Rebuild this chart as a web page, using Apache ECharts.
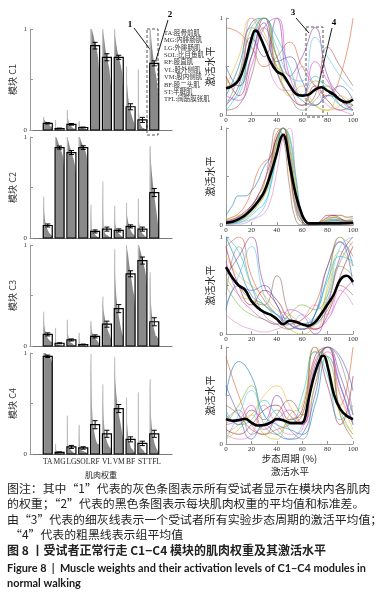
<!DOCTYPE html>
<html><head><meta charset="utf-8">
<script src="https://cdn.jsdelivr.net/npm/echarts@6/dist/echarts.min.js"></script>
<style>html,body{margin:0;padding:0;background:#fff}#c{width:377px;height:594px}</style>
</head><body><div id="c"></div>
<script>
// ---------- DATA ----------
const muscles = ['TA','MG','LG','SOL','RF','VL','VM','BF','ST','TFL'];
const legendLines = ['TA:胫骨前肌','MG:内腓肠肌','LG:外腓肠肌','SOL:比目鱼肌','RF:股直肌','VL:股外侧肌','VM:股内侧肌','BF:股二头肌','ST:半腱肌','TFL:阔筋膜张肌'];

const meanC1 = [0.066,0.015,0.056,0.025,0.835,0.72,0.72,0.23,0.10,0.66];
const meanC2 = [0.124,0.895,0.846,0.895,0.065,0.088,0.075,0.115,0.088,0.45];
const meanC3 = [0.115,0.027,0.06,0.015,0.095,0.216,0.37,0.715,0.846,0.24];
const meanC4 = [0.967,0.017,0.07,0.06,0.29,0.20,0.45,0.145,0.105,0.20];

const errC1 = [0.006,0.004,0.008,0.004,0.033,0.035,0.02,0.03,0.025,0.025];
const errC2 = [0.015,0.015,0.02,0.018,0.015,0.02,0.015,0.015,0.02,0.04];
const errC3 = [0.015,0.005,0.01,0.004,0.015,0.03,0.04,0.03,0.035,0.04];
const errC4 = [0.012,0.004,0.015,0.012,0.04,0.035,0.04,0.025,0.022,0.035];

// sorted per-subject weights (grey bars)
const grayC1 = [
  [0.13,0.1,0.09,0.08,0.07,0.06,0.05,0.04,0.03,0.02],
  [0.1,0.03,0.01,0.005,0,0,0,0,0,0],
  [0.2,0.12,0.07,0.05,0.04,0.03,0.02,0.015,0.01,0],
  [0.09,0.05,0.03,0.02,0.02,0.015,0.01,0.01,0.005,0],
  [1.0,1.0,0.97,0.93,0.88,0.84,0.8,0.75,0.67,0.5],
  [1.0,0.95,0.88,0.8,0.74,0.7,0.65,0.6,0.5,0.38],
  [1.0,0.92,0.85,0.79,0.74,0.7,0.66,0.62,0.56,0.36],
  [0.63,0.45,0.33,0.25,0.2,0.16,0.13,0.1,0.07,0],
  [0.6,0.18,0.08,0.05,0.03,0.02,0.02,0.01,0.01,0],
  [1.0,0.95,0.85,0.76,0.68,0.62,0.56,0.5,0.4,0.28]
];
const grayC2 = [
  [0.41,0.25,0.16,0.12,0.09,0.07,0.05,0.04,0.03,0.02],
  [1.0,1.0,0.98,0.95,0.92,0.9,0.87,0.84,0.8,0.69],
  [1.0,0.98,0.94,0.9,0.87,0.84,0.8,0.77,0.72,0.64],
  [1.0,1.0,0.97,0.94,0.92,0.9,0.88,0.85,0.81,0.68],
  [0.33,0.1,0.06,0.05,0.04,0.03,0.02,0.01,0.01,0],
  [0.56,0.12,0.06,0.04,0.03,0.03,0.02,0.01,0.01,0],
  [0.32,0.14,0.08,0.06,0.05,0.04,0.03,0.02,0.01,0],
  [0.35,0.22,0.16,0.12,0.09,0.07,0.05,0.04,0.03,0.02],
  [0.39,0.16,0.1,0.07,0.05,0.04,0.03,0.02,0.01,0.01],
  [0.91,0.78,0.65,0.55,0.46,0.39,0.31,0.24,0.16,0.05]
];
const grayC3 = [
  [0.34,0.2,0.15,0.11,0.09,0.07,0.06,0.05,0.04,0.04],
  [0.18,0.04,0.02,0.01,0.01,0.01,0,0,0,0],
  [0.26,0.12,0.07,0.05,0.03,0.03,0.02,0.01,0.01,0],
  [0.13,0.02,0,0,0,0,0,0,0,0],
  [0.25,0.16,0.12,0.1,0.09,0.07,0.06,0.05,0.03,0.02],
  [0.49,0.36,0.3,0.24,0.2,0.17,0.14,0.12,0.09,0.05],
  [0.96,0.66,0.5,0.4,0.33,0.27,0.21,0.16,0.12,0.09],
  [1.0,0.96,0.9,0.82,0.74,0.68,0.62,0.55,0.5,0.38],
  [1.0,1.0,0.96,0.92,0.88,0.84,0.8,0.76,0.7,0.6],
  [0.73,0.45,0.32,0.24,0.18,0.14,0.1,0.1,0.08,0.06]
];
const grayC4 = [
  [1.0,1.0,1.0,0.99,0.98,0.97,0.96,0.95,0.93,0.89],
  [0.1,0.04,0.02,0.01,0,0,0,0,0,0],
  [0.38,0.1,0.06,0.05,0.04,0.03,0.02,0.01,0.01,0],
  [0.29,0.1,0.06,0.04,0.03,0.03,0.02,0.02,0.01,0],
  [0.99,0.55,0.35,0.26,0.2,0.15,0.12,0.1,0.1,0.08],
  [0.69,0.38,0.25,0.18,0.14,0.11,0.09,0.07,0.06,0.03],
  [0.96,0.72,0.6,0.5,0.43,0.37,0.32,0.26,0.2,0.14],
  [0.56,0.3,0.18,0.13,0.09,0.06,0.05,0.04,0.02,0.02],
  [0.61,0.15,0.09,0.06,0.05,0.04,0.03,0.01,0.01,0],
  [0.74,0.4,0.27,0.19,0.14,0.1,0.07,0.05,0.03,0.01]
];

// activation: gait cycle samples
const cycle10 = [0,10,20,30,40,50,60,70,80,90,100];
const cycle5 = [0,5,10,15,20,25,30,35,40,45,50,55,60,65,70,75,80,85,90,95,100];

const subjC1 = [
  [0.2,0.5,0.95,1.0,0.6,0.3,0.15,0.1,0.2,0.15,0.05],
  [0.9,0.85,0.7,0.5,0.6,0.75,0.5,0.3,0.2,0.4,1.0],
  [0.3,0.6,1.0,0.85,0.5,0.4,0.2,0.1,0.05,0.1,0.2],
  [0.1,0.3,0.8,0.6,1.0,0.4,0.6,0.9,0.4,0.2,0.1],
  [0.25,0.4,0.9,1.0,0.5,0.3,0.2,0.35,0.3,0.15,0.1],
  [0.15,0.2,0.8,1.0,0.7,0.4,0.35,0.8,0.6,0.4,0.25],
  [0.4,0.2,0.6,1.0,0.45,0.2,0.1,0.3,0.15,0.05,0.1],
  [0.05,0.1,0.4,0.9,0.6,0.3,0.1,0.2,0.7,0.5,0.3],
  [0.3,0.35,1.0,0.7,0.3,0.25,0.5,0.3,0.1,0.05,0.0],
  [0.1,0.4,0.9,0.8,0.45,0.2,0.05,0.15,0.3,0.1,0.05],
  [0.35,0.3,0.8,1.0,0.6,0.2,0.3,0.1,0.05,0.2,0.1],
  [0.05,0.25,0.7,1.0,0.8,0.5,0.2,0.4,0.25,0.1,0.05],
  [0.5,0.3,0.6,0.95,0.55,0.6,0.35,0.1,0.2,0.3,0.15],
  [0.2,0.15,0.5,0.9,1.0,0.4,0.2,0.55,0.35,0.15,0.05]
];
const subjC2 = [
  [0.1,0.2,0.3,0.3,0.35,0.45,0.6,0.7,0.9,1.0,0.6,0.15,0.02,0,0,0.02,0.05,0.06,0.05,0.04,0.05],
  [0.05,0.08,0.12,0.2,0.35,0.55,0.65,0.7,0.95,1.0,0.8,0.3,0.05,0,0,0.03,0.07,0.08,0.06,0.04,0.03],
  [0.02,0.03,0.05,0.08,0.15,0.22,0.3,0.55,0.85,1.0,0.55,0.15,0.02,0,0,0,0.02,0.03,0.02,0.01,0.02],
  [0.03,0.05,0.08,0.12,0.2,0.28,0.35,0.6,0.9,1.0,0.7,0.3,0.08,0.02,0.02,0.04,0.08,0.1,0.1,0.08,0.09],
  [0.01,0.02,0.04,0.07,0.12,0.2,0.3,0.45,0.8,1.0,0.9,0.45,0.1,0.01,0,0.02,0.05,0.08,0.06,0.05,0.07],
  [0,0.01,0.02,0.04,0.06,0.1,0.18,0.4,0.7,1.0,0.85,0.35,0.05,0,0,0.01,0.02,0.03,0.02,0.02,0.03],
  [0.04,0.06,0.09,0.14,0.2,0.3,0.45,0.65,0.9,1.0,0.6,0.2,0.04,0,0,0.05,0.1,0.1,0.07,0.04,0.04],
  [0.02,0.03,0.06,0.1,0.18,0.3,0.42,0.75,1.0,0.9,0.4,0.05,0,0,0,0.01,0.03,0.05,0.04,0.03,0.03],
  [0,0.01,0.01,0.02,0.05,0.08,0.12,0.25,0.55,0.9,1.0,0.5,0.1,0.01,0,0,0.01,0.02,0.02,0.01,0.02],
  [0.02,0.02,0.04,0.08,0.14,0.22,0.32,0.5,0.85,1.0,0.75,0.25,0.04,0,0,0.02,0.04,0.05,0.04,0.03,0.04],
  [0.06,0.08,0.1,0.12,0.18,0.25,0.38,0.55,0.88,1.0,0.8,0.4,0.08,0.02,0.01,0.03,0.06,0.08,0.1,0.08,0.07],
  [0.01,0.02,0.03,0.05,0.1,0.16,0.22,0.4,0.75,1.0,0.92,0.5,0.1,0.01,0,0.01,0.03,0.04,0.03,0.02,0.02]
];
const subjC3 = [
  [1.0,0.7,0.4,0.3,0.2,0.1,0.05,0.2,0.6,1.0,0.7],
  [0.9,1.0,0.6,0.35,0.2,0.1,0.15,0.3,0.7,0.95,0.8],
  [0.8,0.6,0.5,0.4,0.25,0.2,0.1,0.05,0.5,1.0,0.9],
  [0.6,0.8,1.0,0.5,0.3,0.05,0.1,0.0,0.3,0.8,1.0],
  [0.5,0.3,0.2,0.15,0.1,0.2,0.3,0.25,0.4,0.7,0.6],
  [0.3,0.6,0.9,0.4,0.2,0.1,0.2,0.1,0.4,0.9,1.0],
  [0.9,0.5,0.3,0.45,0.35,0.15,0.1,0.05,0.2,0.6,0.9],
  [0.7,0.5,0.35,0.3,0.6,0.2,0.05,0.1,0.25,0.5,0.4],
  [0.2,0.1,0.05,0.02,0.05,0.1,0.15,0.3,0.2,0.45,0.3],
  [0.4,0.9,0.5,0.2,0.1,0.05,0.1,0.15,0.35,0.75,0.95],
  [0.6,0.4,0.35,0.3,0.15,0.05,0.0,0.1,0.45,0.85,0.7],
  [1.0,0.85,0.5,0.3,0.2,0.15,0.1,0.2,0.55,0.8,0.75],
  [0.25,0.5,0.45,0.5,0.3,0.1,0.05,0.2,0.7,0.95,0.5],
  [0.75,0.4,0.25,0.15,0.1,0.25,0.2,0.05,0.15,0.4,0.55]
];
const subjC4 = [
  [0.5,0.85,0.7,0.3,0.2,0.15,0.1,0.4,0.9,0.6,0.2],
  [0.9,0.5,0.2,0.1,0.15,0.2,0.3,0.9,1.0,0.4,1.0],
  [0.1,0.2,0.3,0.5,0.6,0.4,0.2,0.6,1.0,0.5,0.15],
  [0.3,0.2,0.35,0.25,0.5,0.3,0.2,0.8,1.0,0.7,0.3],
  [0.2,0.4,0.6,0.2,0.1,0.25,0.3,0.95,0.9,0.35,0.1],
  [0.05,0.3,0.55,0.3,0.15,0.05,0.2,0.7,1.0,0.6,0.2],
  [0.15,0.1,0.2,0.35,0.4,0.25,0.35,1.0,0.6,0.2,0.7],
  [0.4,0.3,0.15,0.1,0.3,0.45,0.3,0.85,1.0,0.3,0.05],
  [0.1,0.05,0.1,0.4,0.2,0.1,0.15,0.9,1.0,0.5,0.25],
  [0.25,0.35,0.1,0.2,0.35,0.15,0.05,0.6,1.0,0.85,0.3],
  [0.05,0.15,0.3,0.1,0.05,0.3,0.4,1.0,0.8,0.3,0.1],
  [0.35,0.2,0.25,0.45,0.3,0.2,0.5,0.95,0.7,0.25,0.4],
  [0.6,0.3,0.05,0.2,0.1,0.05,0.1,0.5,1.0,0.9,0.55],
  [0.2,0.25,0.4,0.15,0.25,0.35,0.2,0.75,0.95,0.6,0.2]
];

const meanXC1 = [0,5,10,15,20,23,25,30,35,40,45,50,55,60,65,70,75,80,85,90,95,100];
const meanYC1 = [0.276,0.30,0.36,0.53,0.78,0.87,0.855,0.71,0.55,0.45,0.41,0.31,0.22,0.20,0.21,0.26,0.286,0.25,0.21,0.155,0.13,0.16];
const meanXC2 = [0,5,10,15,20,25,30,35,40,43,45,47,50,55,60,63,65,70,80,90,100];
const meanYC2 = [0.024,0.034,0.06,0.10,0.16,0.24,0.34,0.52,0.74,0.89,0.93,0.88,0.64,0.31,0.10,0.034,0.017,0.017,0.017,0.017,0.02];
const meanXC3 = [0,5,10,15,20,25,30,35,40,45,50,55,60,65,70,75,80,85,90,95,100];
const meanYC3 = [0.69,0.58,0.50,0.455,0.34,0.27,0.225,0.20,0.155,0.10,0.137,0.126,0.10,0.085,0.12,0.205,0.307,0.41,0.56,0.60,0.536];
const meanXC4 = [0,5,10,15,20,25,30,35,40,45,50,55,60,62,65,70,75,77,80,85,90,95,100];
const meanYC4 = [0.256,0.24,0.246,0.26,0.22,0.19,0.195,0.22,0.256,0.246,0.22,0.215,0.22,0.256,0.46,0.73,0.90,0.91,0.80,0.51,0.36,0.29,0.256];

const lineColors = ['#0072BD','#D95319','#EDB120','#7E2F8E','#77AC30','#4DBEEE','#A2142F','#8c564b','#e377c2','#7f7f7f','#bcbd22','#17becf','#3f4fbf','#d62fd6'];

// ---------- CHART ----------
const means = [meanC1,meanC2,meanC3,meanC4];
const errs = [errC1,errC2,errC3,errC4];
const grays = [grayC1,grayC2,grayC3,grayC4];
const subjs = [subjC1,subjC2,subjC3,subjC4];
const subjX = [cycle10,cycle5,cycle10,cycle10];
const meanX = [meanXC1,meanXC2,meanXC3,meanXC4];
const meanY = [meanYC1,meanYC2,meanYC3,meanYC4];
const cats = [''].concat(muscles).concat(['']);

const leftTops = [29,137,245,353];
const rightTops = [18,128,237,347];
const serif = 'Liberation Serif';
const cjk = '"Noto Sans CJK SC"';

const grid = [], xAxis = [], yAxis = [], series = [];
leftTops.forEach((t,i)=>{
  grid.push({left:30, top:t, width:142, height:101});
  xAxis.push({type:'category', gridIndex:i, data:cats, boundaryGap:true,
    axisTick:{show:false}, axisLine:{lineStyle:{color:'#777',width:1}},
    axisLabel:{show:i===3, interval:0, fontSize:7.5, fontFamily:serif, color:'#222', margin:4},
    name: i===3?'肌肉权重':'', nameLocation:'middle', nameGap:17,
    nameTextStyle:{fontSize:8, color:'#222', fontFamily:cjk}});
  yAxis.push({type:'value', gridIndex:i, min:0, max:1, interval:0.5, splitLine:{show:false},
    axisLine:{show:true, lineStyle:{color:'#999'}},
    axisTick:{show:true, inside:true, length:3, lineStyle:{color:'#999'}},
    axisLabel:{formatter:v=>(v===0||v===1)?String(v):'', fontSize:7, fontFamily:serif, color:'#333', margin:3},
    name:'模块 C'+(i+1), nameLocation:'middle', nameGap:13,
    nameTextStyle:{fontSize:9, color:'#333', fontFamily:cjk}});
});
rightTops.forEach((t,j)=>{
  const gi = 4+j;
  grid.push({left:226, top:t, width:127, height:97});
  xAxis.push({type:'value', gridIndex:gi, min:0, max:100, interval:20, splitLine:{show:false},
    axisLine:{lineStyle:{color:'#999'}},
    axisTick:{inside:true, length:3, lineStyle:{color:'#999'}},
    axisLabel:{fontSize:7, fontFamily:serif, color:'#333', margin:2},
    name: j===3?'步态周期 (%)':'', nameLocation:'middle', nameGap:9,
    nameTextStyle:{fontSize:9.5, color:'#222', fontFamily:cjk, verticalAlign:'top'}});
  yAxis.push({type:'value', gridIndex:gi, min:0, max:1, interval:0.5, splitLine:{show:false},
    axisLine:{show:true, lineStyle:{color:'#999'}},
    axisTick:{show:true, inside:true, length:3, lineStyle:{color:'#999'}},
    axisLabel:{formatter:v=>(v===0||v===1)?String(v):'', fontSize:7, fontFamily:serif, color:'#333', margin:3},
    name:'激活水平', nameLocation:'middle', nameGap:6,
    nameTextStyle:{fontSize:10, color:'#222', fontFamily:cjk}});
});

// bar panels
for (let i=0;i<4;i++){
  const g = grays[i];
  series.push({type:'custom', xAxisIndex:i, yAxisIndex:i, silent:true, z:2,
    data: muscles.map((m,k)=>[k+1, g[k][0]]),
    renderItem:(params, api)=>{
      const k = params.dataIndex, vals = g[k];
      const base = api.coord([k+1, 0]);
      const bw = api.size([1,0])[0]*0.76;
      const left = base[0]-bw/2;
      const n = vals.length;
      const pts = vals.map((v,q)=>[left + q*bw/(n-1), api.coord([k+1, v])[1]]);
      pts.push([left+bw, base[1]]); pts.push([left, base[1]]);
      return {type:'group', children:[
        {type:'polygon', shape:{points:pts}, style:{fill:'#8a8a8a'}},
        {type:'line', shape:{x1:left+0.5, y1:base[1], x2:left+0.5, y2:pts[0][1]}, style:{stroke:'#bdbdbd', lineWidth:1}}
      ]};
    }});
  const mu = means[i], er = errs[i];
  series.push({type:'custom', xAxisIndex:i, yAxisIndex:i, silent:true, z:3,
    data: muscles.map((m,k)=>[k+1, mu[k], er[k]]),
    renderItem:(params, api)=>{
      const x = api.value(0), v = api.value(1), e = api.value(2);
      const base = api.coord([x, 0]);
      const top = api.coord([x, v]);
      const hi = api.coord([x, v+e])[1], lo = api.coord([x, v-e])[1];
      const bw = api.size([1,0])[0]*0.76;
      const cx = base[0];
      return {type:'group', children:[
        {type:'rect', shape:{x:cx-bw/2, y:top[1], width:bw, height:base[1]-top[1]}, style:{fill:'none', stroke:'#000', lineWidth:1.2}},
        {type:'line', shape:{x1:cx, y1:hi, x2:cx, y2:lo}, style:{stroke:'#000', lineWidth:1}},
        {type:'line', shape:{x1:cx-2.5, y1:hi, x2:cx+2.5, y2:hi}, style:{stroke:'#000', lineWidth:1}},
        {type:'line', shape:{x1:cx-2.5, y1:lo, x2:cx+2.5, y2:lo}, style:{stroke:'#000', lineWidth:1}}
      ]};
    }});
}

// activation panels
for (let j=0;j<4;j++){
  const gi = 4+j, xs = subjX[j];
  subjs[j].forEach((arr,s)=>{
    series.push({type:'line', xAxisIndex:gi, yAxisIndex:gi, silent:true, z:2,
      data: arr.map((v,q)=>[xs[q], v]), smooth:0.5, showSymbol:false,
      lineStyle:{width:0.7, color:lineColors[s % lineColors.length], opacity:0.8}});
  });
  series.push({type:'line', xAxisIndex:gi, yAxisIndex:gi, silent:true, z:5,
    data: meanY[j].map((v,q)=>[meanX[j][q], v]), smooth:0.4, showSymbol:false,
    lineStyle:{width:2.6, color:'#000'}});
}

// annotations & caption
const graphic = [];
legendLines.forEach((s,k)=>{
  graphic.push({type:'text', x:164, y:33+k*7.4, style:{text:s, fontSize:6.5, fontFamily:serif+','+cjk, fill:'#333', verticalAlign:'middle'}});
});
graphic.push(
  {type:'rect', shape:{x:147, y:29, width:11, height:106}, style:{fill:null, stroke:'#444', lineWidth:0.9, lineDash:[3,2]}},
  {type:'text', x:130, y:25, style:{text:'1', fontSize:9, fontWeight:'bold', fontFamily:serif, fill:'#000', align:'center', verticalAlign:'middle'}},
  {type:'text', x:170, y:15, style:{text:'2', fontSize:9, fontWeight:'bold', fontFamily:serif, fill:'#000', align:'center', verticalAlign:'middle'}},
  {type:'line', shape:{x1:134, y1:28, x2:152, y2:52}, style:{stroke:'#000', lineWidth:0.9}},
  {type:'line', shape:{x1:168, y1:20, x2:156, y2:60}, style:{stroke:'#000', lineWidth:0.9}},
  {type:'rect', shape:{x:306, y:27, width:17, height:90}, style:{fill:null, stroke:'#444', lineWidth:0.9, lineDash:[3,2]}},
  {type:'text', x:293, y:13, style:{text:'3', fontSize:9, fontWeight:'bold', fontFamily:serif, fill:'#000', align:'center', verticalAlign:'middle'}},
  {type:'text', x:334, y:23, style:{text:'4', fontSize:9, fontWeight:'bold', fontFamily:serif, fill:'#000', align:'center', verticalAlign:'middle'}},
  {type:'line', shape:{x1:296, y1:18, x2:309, y2:33}, style:{stroke:'#000', lineWidth:0.9}},
  {type:'line', shape:{x1:332, y1:28, x2:318, y2:87}, style:{stroke:'#000', lineWidth:0.9}},
  {type:'text', x:290, y:471, style:{text:'激活水平', fontSize:9.5, fontFamily:cjk, fill:'#222', align:'center', verticalAlign:'middle'}}
);
const capLines = [
  ['图注：其中“1”代表的灰色条图表示所有受试者显示在模块内各肌肉', 488, 7],
  ['的权重；“2”代表的黑色条图表示每块肌肉权重的平均值和标准差。', 503, 7],
  ['由“3”代表的细灰线表示一个受试者所有实验步态周期的激活平均值；', 519, 7],
  ['“4”代表的粗黑线表示组平均值', 534, 10]
];
capLines.forEach(c=>{
  graphic.push({type:'text', x:c[2], y:c[1], style:{text:c[0], fontSize:11.9, fontFamily:cjk, fill:'#222', verticalAlign:'middle'}});
});
graphic.push(
  {type:'text', x:7, y:550, style:{text:'图 8 丨受试者正常行走 C1−C4 模块的肌肉权重及其激活水平', fontSize:12, fontWeight:'bold', fontFamily:cjk, fill:'#222', verticalAlign:'middle'}},
  {type:'text', x:7, y:568, style:{text:'Figure 8  |  Muscle weights and their activation levels of C1−C4 modules in', fontSize:10.9, fontWeight:'bold', fontFamily:'Lato', fill:'#1a1a1a', verticalAlign:'middle'}},
  {type:'text', x:7, y:583, style:{text:'normal walking', fontSize:10.9, fontWeight:'bold', fontFamily:'Lato', fill:'#1a1a1a', verticalAlign:'middle'}}
);

const chart = echarts.init(document.getElementById('c'), null, {renderer:'canvas'});
chart.setOption({animation:false, backgroundColor:'#fff', grid, xAxis, yAxis, series, graphic});
</script></body></html>
